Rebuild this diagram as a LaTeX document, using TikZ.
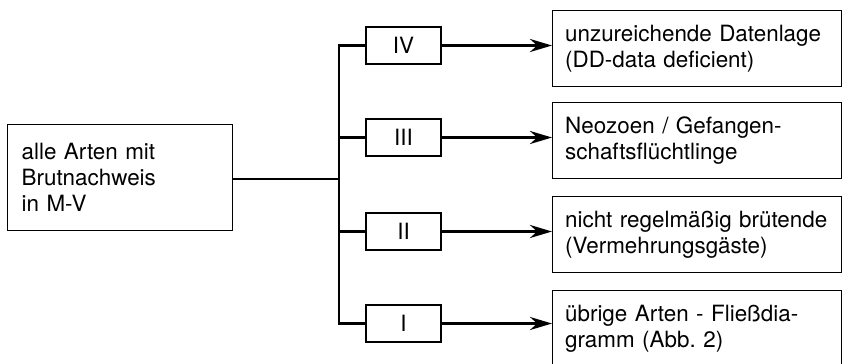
\documentclass[tikz,border=0pt]{standalone}
\usepackage{fontspec}
\setmainfont{TeX Gyre Heros}
\frenchspacing
\usetikzlibrary{arrows.meta, positioning, calc}

\begin{document}
\begin{tikzpicture}[x=1bp, y=-1bp,
    every node/.style={font=\fontsize{22.4bp}{26bp}\selectfont},
    bigbox/.style={draw, line width=1.3bp, anchor=north west, align=left, inner ysep=0pt},
    classbox/.style={draw, line width=1.3bp, minimum width=75bp, minimum height=37bp, inner sep=0pt},
    conn/.style={line width=2.8bp, line join=miter},
    arr/.style={conn, -{Stealth[length=22bp, width=13bp]}}]

    \useasboundingbox (0,0) rectangle (842,363);

    % Start box
    \node[bigbox, minimum width=225bp, minimum height=106bp, inner xsep=14bp, text width=197bp] (alle) at (7,124)
        {alle Arten mit\\Brutnachweis\\in M-V};

    % Category boxes
    \node[classbox] (kIV)  at (403.5,45.5)  {IV};
    \node[classbox] (kIII) at (403.5,137.5) {III};
    \node[classbox] (kII)  at (403.5,231.5) {II};
    \node[classbox] (kI)   at (403.5,323.5) {I};

    % Result boxes
    \node[bigbox, minimum width=289bp, minimum height=76bp, inner xsep=12.5bp, text width=264bp] (dd) at (552,10)
        {unzureichende Datenlage\\(DD-data deficient)};
    \node[bigbox, minimum width=289bp, minimum height=76bp, inner xsep=12.5bp, text width=264bp] (neo) at (552,102)
        {Neozoen / Gefangen-\\schaftsflüchtlinge};
    \node[bigbox, minimum width=289bp, minimum height=76bp, inner xsep=12.5bp, text width=264bp] (gast) at (552,196)
        {nicht regelmäßig brütende\\(Vermehrungsgäste)};
    \node[bigbox, minimum width=289bp, minimum height=76bp, inner xsep=12.5bp, text width=264bp] (rest) at (552,290)
        {übrige Arten - Fließdia-\\gramm (Abb. 2)};

    % Branching
    \coordinate (bus) at (339,179);
    \draw[conn] (alle.east |- bus) -- (bus);
    \draw[conn] (kIV.west) -- (kIV.west -| bus) -- (kI.west -| bus) -- (kI.west);
    \draw[conn] (kIII.west) -- (kIII.west -| bus);
    \draw[conn] (kII.west) -- (kII.west -| bus);

    % Arrows to results
    \draw[arr] (kIV.east) -- (kIV.east -| dd.west);
    \draw[arr] (kIII.east) -- (kIII.east -| neo.west);
    \draw[arr] (kII.east) -- (kII.east -| gast.west);
    \draw[arr] (kI.east) -- (kI.east -| rest.west);
\end{tikzpicture}
\end{document}
